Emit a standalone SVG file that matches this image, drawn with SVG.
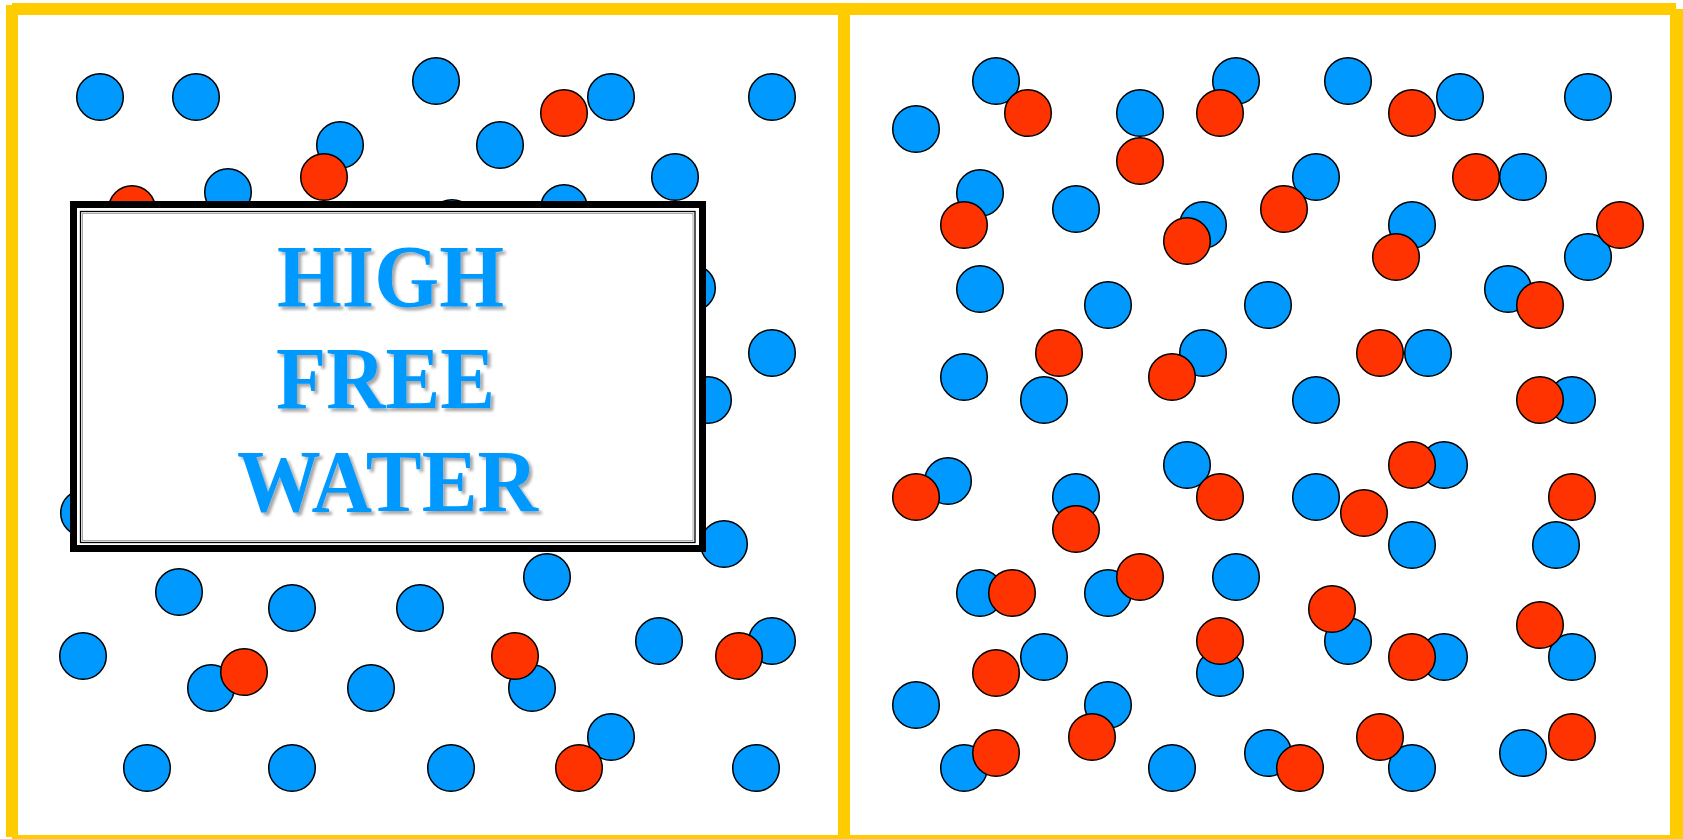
<svg xmlns="http://www.w3.org/2000/svg" width="1683" height="839" viewBox="0 0 1683 839">
<style>
.b{fill:#0099FF;stroke:#000;stroke-width:1.5}
.r{fill:#FF3300;stroke:#000;stroke-width:1.5}
.f{fill:#FFCC00}
.t{font-family:"Liberation Serif","Times New Roman",serif;font-weight:bold;font-size:88px;fill:#0099FF}
</style>
<defs>
<filter id="sh" x="-10%" y="-20%" width="130%" height="150%">
<feDropShadow dx="3" dy="3" stdDeviation="1.6" flood-color="#000" flood-opacity="0.35"/>
</filter>
</defs>
<rect width="1683" height="839" fill="#fff"/>
<g id="left-panel">
<g id="left-blue">
<circle class="b" cx="100" cy="97" r="23.3"/>
<circle class="b" cx="196" cy="97" r="23.3"/>
<circle class="b" cx="436" cy="81" r="23.3"/>
<circle class="b" cx="772" cy="97" r="23.3"/>
<circle class="b" cx="340" cy="145" r="23.3"/>
<circle class="b" cx="500" cy="145" r="23.3"/>
<circle class="b" cx="675" cy="177" r="23.3"/>
<circle class="b" cx="228" cy="192" r="23.3"/>
<circle class="b" cx="452" cy="223" r="23.3"/>
<circle class="b" cx="564" cy="208" r="23.3"/>
<circle class="b" cx="692" cy="288" r="23.3"/>
<circle class="b" cx="772" cy="353" r="23.3"/>
<circle class="b" cx="708" cy="400" r="23.3"/>
<circle class="b" cx="84" cy="513" r="23.3"/>
<circle class="b" cx="724" cy="544" r="23.3"/>
<circle class="b" cx="547" cy="577" r="23.3"/>
<circle class="b" cx="179" cy="592" r="23.3"/>
<circle class="b" cx="292" cy="608" r="23.3"/>
<circle class="b" cx="420" cy="608" r="23.3"/>
<circle class="b" cx="83" cy="656" r="23.3"/>
<circle class="b" cx="211" cy="688" r="23.3"/>
<circle class="b" cx="371" cy="688" r="23.3"/>
<circle class="b" cx="532" cy="688" r="23.3"/>
<circle class="b" cx="659" cy="641" r="23.3"/>
<circle class="b" cx="772" cy="641" r="23.3"/>
<circle class="b" cx="611" cy="737" r="23.3"/>
<circle class="b" cx="147" cy="768" r="23.3"/>
<circle class="b" cx="292" cy="768" r="23.3"/>
<circle class="b" cx="451" cy="768" r="23.3"/>
<circle class="b" cx="756" cy="768" r="23.3"/>
</g>
<g id="left-red">
<circle class="r" cx="564" cy="113" r="23.3"/>
<circle class="r" cx="324" cy="177" r="23.3"/>
<circle class="r" cx="132" cy="209" r="23.3"/>
<circle class="r" cx="244" cy="672" r="23.3"/>
<circle class="r" cx="515" cy="656" r="23.3"/>
<circle class="r" cx="739" cy="656" r="23.3"/>
<circle class="r" cx="579" cy="768" r="23.3"/>
</g>
<circle class="b" cx="611" cy="97" r="23.3"/>
<g id="label-box">
<rect x="73.5" y="204.5" width="629" height="344" fill="#fff" stroke="#000" stroke-width="7"/>
<rect x="80.5" y="211.5" width="614.5" height="331" fill="none" stroke="#000" stroke-width="1.3"/>
<rect x="82.5" y="213.5" width="610.5" height="327" fill="none" stroke="#aaa" stroke-width="1"/>
<g filter="url(#sh)">
<text class="t" x="277" y="306" textLength="227" lengthAdjust="spacingAndGlyphs">HIGH</text>
<text class="t" x="276" y="408" textLength="219" lengthAdjust="spacingAndGlyphs">FREE</text>
<text class="t" x="237" y="511" textLength="301" lengthAdjust="spacingAndGlyphs">WATER</text>
</g>
</g>
</g>
<g id="right-panel">
<g id="right-blue">
<circle class="b" cx="996" cy="81" r="23.3"/>
<circle class="b" cx="916" cy="129" r="23.3"/>
<circle class="b" cx="1140" cy="113" r="23.3"/>
<circle class="b" cx="1236" cy="81" r="23.3"/>
<circle class="b" cx="1348" cy="81" r="23.3"/>
<circle class="b" cx="1588" cy="97" r="23.3"/>
<circle class="b" cx="980" cy="193" r="23.3"/>
<circle class="b" cx="1076" cy="209" r="23.3"/>
<circle class="b" cx="1316" cy="177" r="23.3"/>
<circle class="b" cx="1203" cy="225" r="23.3"/>
<circle class="b" cx="1412" cy="225" r="23.3"/>
<circle class="b" cx="1588" cy="257" r="23.3"/>
<circle class="b" cx="980" cy="289" r="23.3"/>
<circle class="b" cx="1108" cy="305" r="23.3"/>
<circle class="b" cx="1268" cy="305" r="23.3"/>
<circle class="b" cx="1508" cy="289" r="23.3"/>
<circle class="b" cx="964" cy="377" r="23.3"/>
<circle class="b" cx="1044" cy="400" r="23.3"/>
<circle class="b" cx="1203" cy="353" r="23.3"/>
<circle class="b" cx="1316" cy="400" r="23.3"/>
<circle class="b" cx="1572" cy="400" r="23.3"/>
<circle class="b" cx="948" cy="481" r="23.3"/>
<circle class="b" cx="1076" cy="497" r="23.3"/>
<circle class="b" cx="1187" cy="465" r="23.3"/>
<circle class="b" cx="1316" cy="497" r="23.3"/>
<circle class="b" cx="1444" cy="465" r="23.3"/>
<circle class="b" cx="1412" cy="545" r="23.3"/>
<circle class="b" cx="1556" cy="545" r="23.3"/>
<circle class="b" cx="980" cy="593" r="23.3"/>
<circle class="b" cx="1108" cy="593" r="23.3"/>
<circle class="b" cx="1236" cy="577" r="23.3"/>
<circle class="b" cx="1348" cy="641" r="23.3"/>
<circle class="b" cx="1572" cy="657" r="23.3"/>
<circle class="b" cx="1444" cy="657" r="23.3"/>
<circle class="b" cx="1044" cy="657" r="23.3"/>
<circle class="b" cx="1220" cy="673" r="23.3"/>
<circle class="b" cx="916" cy="705" r="23.3"/>
<circle class="b" cx="1108" cy="705" r="23.3"/>
<circle class="b" cx="964" cy="768" r="23.3"/>
<circle class="b" cx="1172" cy="768" r="23.3"/>
<circle class="b" cx="1268" cy="753" r="23.3"/>
<circle class="b" cx="1412" cy="768" r="23.3"/>
<circle class="b" cx="1523" cy="753" r="23.3"/>
</g>
<g id="right-red">
<circle class="r" cx="1028" cy="113" r="23.3"/>
<circle class="r" cx="1140" cy="161" r="23.3"/>
<circle class="r" cx="1220" cy="113" r="23.3"/>
<circle class="r" cx="1412" cy="113" r="23.3"/>
<circle class="r" cx="964" cy="225" r="23.3"/>
<circle class="r" cx="1284" cy="209" r="23.3"/>
<circle class="r" cx="1187" cy="241" r="23.3"/>
<circle class="r" cx="1476" cy="177" r="23.3"/>
<circle class="r" cx="1396" cy="257" r="23.3"/>
<circle class="r" cx="1620" cy="225" r="23.3"/>
<circle class="r" cx="1540" cy="305" r="23.3"/>
<circle class="r" cx="1059" cy="353" r="23.3"/>
<circle class="r" cx="1172" cy="377" r="23.3"/>
<circle class="r" cx="1380" cy="353" r="23.3"/>
<circle class="r" cx="1540" cy="400" r="23.3"/>
<circle class="r" cx="916" cy="497" r="23.3"/>
<circle class="r" cx="1076" cy="529" r="23.3"/>
<circle class="r" cx="1220" cy="497" r="23.3"/>
<circle class="r" cx="1364" cy="513" r="23.3"/>
<circle class="r" cx="1412" cy="465" r="23.3"/>
<circle class="r" cx="1572" cy="497" r="23.3"/>
<circle class="r" cx="1012" cy="593" r="23.3"/>
<circle class="r" cx="1140" cy="577" r="23.3"/>
<circle class="r" cx="1332" cy="609" r="23.3"/>
<circle class="r" cx="1540" cy="625" r="23.3"/>
<circle class="r" cx="1412" cy="657" r="23.3"/>
<circle class="r" cx="996" cy="673" r="23.3"/>
<circle class="r" cx="1220" cy="641" r="23.3"/>
<circle class="r" cx="1092" cy="737" r="23.3"/>
<circle class="r" cx="996" cy="753" r="23.3"/>
<circle class="r" cx="1300" cy="768" r="23.3"/>
<circle class="r" cx="1380" cy="737" r="23.3"/>
<circle class="r" cx="1572" cy="737" r="23.3"/>
</g>
<circle class="b" cx="1460" cy="97" r="23.3"/>
<circle class="b" cx="1523" cy="177" r="23.3"/>
<circle class="b" cx="1428" cy="353" r="23.3"/>
</g>
<g id="frame">
<rect class="f" x="12" y="3" width="1664" height="12"/>
<rect class="f" x="6" y="5" width="12" height="832"/>
<rect class="f" x="838" y="3" width="12" height="834"/>
<rect class="f" x="1670" y="9" width="13" height="830"/>
<rect class="f" x="12" y="835" width="1671" height="4"/>
</g>
</svg>
